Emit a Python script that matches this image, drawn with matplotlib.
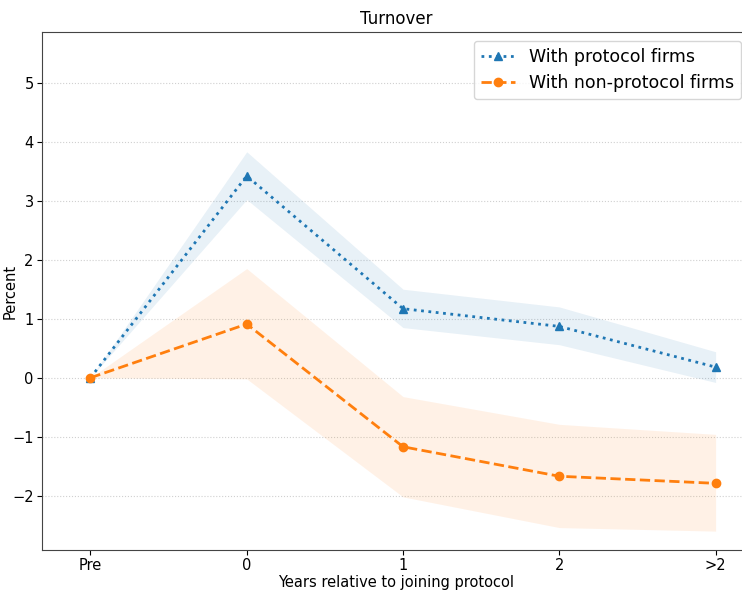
import numpy as np
import matplotlib
matplotlib.use("Agg")
import matplotlib.pyplot as plt

# Data
labels = ["Pre", "0", "1", "2", ">2"]

prot = [0.0, 3.42, 1.17, 0.87, 0.18]
prot_lo = [0.0, 3.02, 0.85, 0.56, -0.08]
prot_hi = [0.0, 3.83, 1.50, 1.20, 0.44]

nonprot = [0.0, 0.91, -1.17, -1.67, -1.79]
nonprot_lo = [0.0, -0.02, -2.02, -2.54, -2.60]
nonprot_hi = [0.0, 1.85, -0.32, -0.79, -0.96]

x = np.arange(len(labels))
blue = "#1f77b4"
orange = "#ff7f0e"

fig = plt.figure(figsize=(7.42, 5.93), dpi=100)
ax = fig.add_axes([42 / 742, 43 / 593, (750 - 42) / 742, (550 - 32) / 593])

ax.fill_between(x, prot_lo, prot_hi, color=blue, alpha=0.1, linewidth=0)
ax.fill_between(x, nonprot_lo, nonprot_hi, color=orange, alpha=0.1, linewidth=0)
ax.plot(x, prot, ":", color=blue, marker="^", markersize=6, linewidth=2,
        label="With protocol firms")
ax.plot(x, nonprot, "--", color=orange, marker="o", markersize=6, linewidth=2,
        label="With non-protocol firms")

ax.set_xlim(-0.31, 4.22)
ax.set_ylim(-2.92, 5.86)
ax.set_xticks(x)
ax.set_xticklabels(labels)
ax.set_yticks(range(-2, 6))
ax.tick_params(labelsize=10.5, pad=2.5)
ax.yaxis.grid(True, linestyle=":", color="#d0d0d0", linewidth=0.8)
ax.set_axisbelow(True)
for s in ax.spines.values():
    s.set_color("#444444")

ax.set_title("Turnover", fontsize=12)
ax.set_xlabel("Years relative to joining protocol", fontsize=10.5)
ax.xaxis.set_label_coords(0.5, -0.048)
ax.set_ylabel("Percent", fontsize=10.5)
ax.yaxis.set_label_coords(-0.035, 0.5)
ax.legend(loc="upper right", fontsize=12.5)

fig.savefig("out.png", dpi=100)
